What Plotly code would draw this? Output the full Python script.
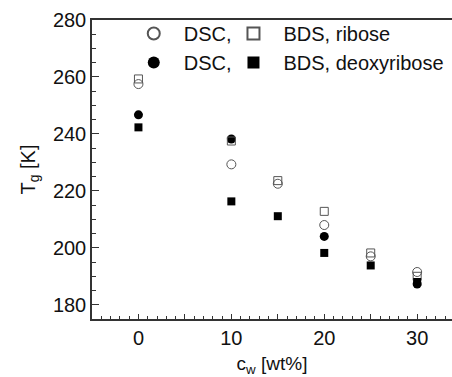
import plotly.graph_objects as go

# Data
cw_dsc_rib = [0, 10, 15, 20, 25, 30]
tg_dsc_rib = [257.5, 229.3, 222.5, 208.0, 197.0, 191.5]
cw_bds_rib = [0, 10, 15, 20, 25, 30]
tg_bds_rib = [259.3, 237.5, 223.6, 212.8, 198.2, 190.0]
cw_dsc_deo = [0, 10, 20, 30]
tg_dsc_deo = [246.7, 238.2, 204.0, 187.3]
cw_bds_deo = [0, 10, 15, 20, 25, 30]
tg_bds_deo = [242.3, 216.3, 211.1, 198.2, 193.8, 188.0]

x_tickvals = [-5, 0, 5, 10, 15, 20, 25, 30]
x_ticktext = ["", "0", "", "10", "", "20", "", "30"]

font_family = "Liberation Sans, Arial, sans-serif"
ink = "#111111"
axis_col = "#333333"
pad = "\u2002"

fig = go.Figure()
fig.add_trace(go.Scatter(x=cw_dsc_rib, y=tg_dsc_rib, mode="markers", name=pad + "DSC,",
                         marker=dict(symbol="circle-open", size=9, color="#555555", line=dict(width=1)),
                         legend="legend"))
fig.add_trace(go.Scatter(x=cw_dsc_deo, y=tg_dsc_deo, mode="markers", name=pad + "DSC,",
                         marker=dict(symbol="circle", size=9, color="black"),
                         legend="legend"))
fig.add_trace(go.Scatter(x=cw_bds_rib, y=tg_bds_rib, mode="markers", name=pad + "BDS, ribose",
                         marker=dict(symbol="square-open", size=8, color="#555555", line=dict(width=1)),
                         legend="legend2"))
fig.add_trace(go.Scatter(x=cw_bds_deo, y=tg_bds_deo, mode="markers", name=pad + "BDS, deoxyribose",
                         marker=dict(symbol="square", size=8, color="black"),
                         legend="legend2"))

legend_common = dict(orientation="v", bgcolor="rgba(0,0,0,0)", borderwidth=0,
                     font=dict(family=font_family, size=20, color=ink),
                     xanchor="left", yanchor="top", tracegroupgap=0,
                     traceorder="normal", itemsizing="constant")

fig.update_layout(
    width=452, height=377,
    margin=dict(l=92, r=0, t=20, b=58),
    paper_bgcolor="white", plot_bgcolor="white",
    font=dict(family=font_family, size=20, color=ink),
    legend=dict(x=0.116, y=1.02, **legend_common),
    legend2=dict(x=0.393, y=1.02, **legend_common),
    xaxis=dict(range=[-5, 33.75], tickmode="array", tickvals=x_tickvals, ticktext=x_ticktext,
               ticks="inside", ticklen=5, tickwidth=1, tickcolor=axis_col,
               minor=dict(dtick=1, ticks="inside", ticklen=3, tickcolor=axis_col, tickwidth=1),
               showline=True, linecolor=axis_col, linewidth=1.5, mirror=True,
               showgrid=False, zeroline=False,
               tickfont=dict(size=20),
               title=dict(text="c<sub>w</sub> [wt%]", font=dict(size=19), standoff=12)),
    yaxis=dict(range=[175, 280], tick0=180, dtick=20,
               ticks="inside", ticklen=7, tickwidth=1, tickcolor=axis_col,
               minor=dict(dtick=5, ticks="inside", ticklen=4, tickcolor=axis_col, tickwidth=1),
               showline=True, linecolor=axis_col, linewidth=1.5,
               showgrid=False, zeroline=False,
               tickfont=dict(size=20),
               title=dict(text="T<sub>g</sub> [K]", font=dict(size=20), standoff=12)),
)

fig.write_html("out.html", config={"displayModeBar": False},
               post_script="document.body.style.margin='0';document.body.style.overflow='hidden';")
